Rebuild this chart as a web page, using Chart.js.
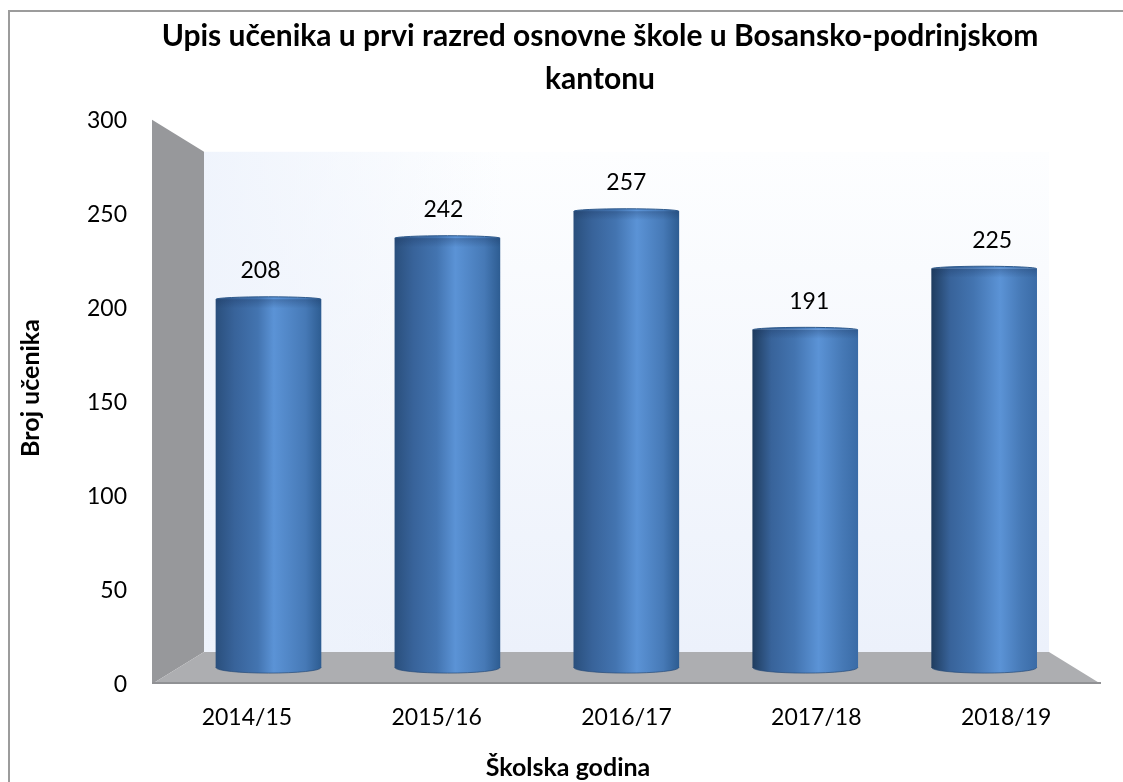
<!DOCTYPE html>
<html>
<head>
<meta charset="utf-8">
<title>Upis učenika</title>
<script src="https://cdn.jsdelivr.net/npm/chart.js@4"></script>
<style>
    body { margin: 0; background: #fff; }
    canvas { display: block; }
</style>
</head>
<body>
<canvas id="upisChart" width="1123" height="782"></canvas>
<script>
const categories = ['2014/15', '2015/16', '2016/17', '2017/18', '2018/19'];
const upisValues = [208, 242, 257, 191, 225];
const yTicks = [0, 50, 100, 150, 200, 250, 300];
const titleLines = ['Upis učenika u prvi razred osnovne škole u Bosansko-podrinjskom', 'kantonu'];
const yTitle = 'Broj učenika';
const xTitle = 'Školska godina';

const fontName = 'Lato, "Open Sans", sans-serif';
const depthX = 52;
const depthY = 32;

function cylinderFill(chart, i) {
    const x = chart.scales.x2.getPixelForValue(i);
    // options get resolved once before the layout is done
    if (!Number.isFinite(x)) return '#3a689f';
    const g = chart.ctx.createLinearGradient(x - 53, 0, x + 53, 0);
    // light moves right a bit from the first bar to the last
    const t = i / (categories.length - 1);
    g.addColorStop(0, t > 0.5 ? '#1f3c5e' : '#2a4f7c');
    g.addColorStop(0.18, '#38639a');
    g.addColorStop(0.4, '#4374b0');
    g.addColorStop(0.55 + t * 0.1, '#5b93d6');
    g.addColorStop(0.85, '#4679b6');
    g.addColorStop(1, t > 0.5 ? '#3a6ba6' : '#2d5c91');
    return g;
}

function polygon(ctx, pts, fill) {
    ctx.beginPath();
    pts.forEach(([x, y], i) => i ? ctx.lineTo(x, y) : ctx.moveTo(x, y));
    ctx.closePath();
    ctx.fillStyle = fill;
    ctx.fill();
}

// chart frame, back wall, side wall and floor of the 3D box
const boxPlugin = {
    id: 'box',
    beforeDraw(chart) {
        const ctx = chart.ctx;
        const { left, right, top, bottom } = chart.chartArea;
        ctx.save();
        ctx.fillStyle = '#fff';
        ctx.fillRect(0, 0, chart.width, chart.height);
        ctx.fillStyle = '#9c9c9c';
        ctx.fillRect(8, 10, 2, chart.height - 10);
        ctx.fillRect(8, 10, chart.width - 8, 2);

        const backL = left + depthX, backR = right - depthX;
        const backT = top + depthY, backB = bottom - depthY;

        const wall = ctx.createLinearGradient(0, backT, 0, backB);
        wall.addColorStop(0, '#fdfeff');
        wall.addColorStop(1, '#ecf1fb');
        ctx.fillStyle = wall;
        ctx.fillRect(backL, backT, backR - backL, backB - backT);
        const side = ctx.createLinearGradient(backL, 0, backL + 300, 0);
        side.addColorStop(0, 'rgba(238, 243, 252, 0.9)');
        side.addColorStop(1, 'rgba(238, 243, 252, 0)');
        ctx.fillStyle = side;
        ctx.fillRect(backL, backT, 300, backB - backT);

        polygon(ctx, [[left, top], [backL, backT], [backL, backB], [left, bottom]], '#97989b');
        polygon(ctx, [[left, bottom], [backL, backB], [backR, backB], [right, bottom]], '#adaeb1');
        ctx.fillStyle = '#909194';
        ctx.fillRect(left, bottom - 2, right - left, 2);
        ctx.restore();
    }
};

// round caps on the bars, value labels and axis titles
const cylinderPlugin = {
    id: 'cylinder',
    afterDatasetsDraw(chart) {
        const ctx = chart.ctx;
        chart.getDatasetMeta(0).data.forEach((bar, i) => {
            const half = bar.width / 2;
            ctx.save();
            ctx.fillStyle = cylinderFill(chart, i);
            ctx.beginPath();
            ctx.ellipse(bar.x, bar.base, half, 5.5, 0, 0, Math.PI);
            ctx.fill();
            ctx.strokeStyle = 'rgba(40, 75, 120, 0.7)';
            ctx.lineWidth = 1;
            ctx.stroke();

            // top edge is only a shallow arc, shaded a little underneath
            ctx.beginPath();
            ctx.ellipse(bar.x, bar.y, half, 2.5, 0, Math.PI, Math.PI * 2);
            ctx.fill();
            const shade = ctx.createLinearGradient(0, bar.y, 0, bar.y + 9);
            shade.addColorStop(0, 'rgba(25, 50, 90, 0.3)');
            shade.addColorStop(1, 'rgba(25, 50, 90, 0)');
            ctx.fillStyle = shade;
            ctx.fillRect(bar.x - half, bar.y, bar.width, 9);
            ctx.strokeStyle = '#2f5a8c';
            ctx.beginPath();
            ctx.ellipse(bar.x, bar.y, half, 2.5, 0, Math.PI, Math.PI * 2);
            ctx.stroke();

            ctx.fillStyle = '#000';
            ctx.font = '23px ' + fontName;
            ctx.textAlign = 'center';
            ctx.textBaseline = 'middle';
            ctx.fillText(upisValues[i], bar.x + (i - 2) * 4, bar.y - 28.5);
            ctx.restore();
        });
    },
    afterDraw(chart) {
        const ctx = chart.ctx;
        ctx.save();
        ctx.fillStyle = '#000';
        ctx.font = 'bold 25px ' + fontName;
        ctx.textAlign = 'center';
        ctx.textBaseline = 'middle';
        ctx.fillText(xTitle, 568, 768);
        ctx.translate(31, 388);
        ctx.rotate(-Math.PI / 2);
        ctx.fillText(yTitle, 0, 0);
        ctx.restore();
    },
    afterLayout(chart) {
        // title sits left of the plot centre in the original
        chart.titleBlock.left = 99;
    }
};

new Chart(document.getElementById('upisChart'), {
    type: 'bar',
    data: {
        labels: categories,
        datasets: [{
            label: yTitle,
            data: upisValues.map((v, i) => ({ x: i, y: v })),
            xAxisID: 'x2',
            yAxisID: 'y2',
            base: 3,
            barThickness: 105,
            backgroundColor: c => cylinderFill(c.chart, c.dataIndex),
            borderWidth: 0
        }]
    },
    plugins: [boxPlugin, cylinderPlugin],
    options: {
        responsive: false,
        animation: false,
        layout: { padding: { left: 0, right: 22, top: 0, bottom: 0 } },
        plugins: {
            legend: { display: false },
            tooltip: { enabled: false },
            title: {
                display: true,
                text: titleLines,
                color: '#000',
                font: { family: fontName, size: 30, weight: 'bold', lineHeight: 1.43 },
                padding: { top: 15, bottom: 19 }
            }
        },
        scales: {
            x: {
                type: 'category',
                offset: true,
                grid: { display: false },
                border: { display: false },
                ticks: { color: '#000', font: { family: fontName, size: 23 }, padding: 12, maxRotation: 0 },
                afterFit(scale) { scale.height = 98; }
            },
            y: {
                type: 'linear',
                min: 0,
                max: 300,
                grid: { display: false },
                border: { display: false },
                afterBuildTicks(scale) { scale.ticks = yTicks.map(v => ({ value: v })); },
                ticks: { color: '#000', font: { family: fontName, size: 23 }, padding: 17, labelOffset: 1 },
                afterFit(scale) { scale.width = 152; }
            },
            // hidden scales for the bars, their plane is further back than the front axes
            x2: { type: 'linear', display: false, min: -0.651, max: 4.653, offset: false },
            y2: { type: 'linear', display: false, min: -6.12, max: 307.9 }
        }
    }
});
</script>
</body>
</html>
